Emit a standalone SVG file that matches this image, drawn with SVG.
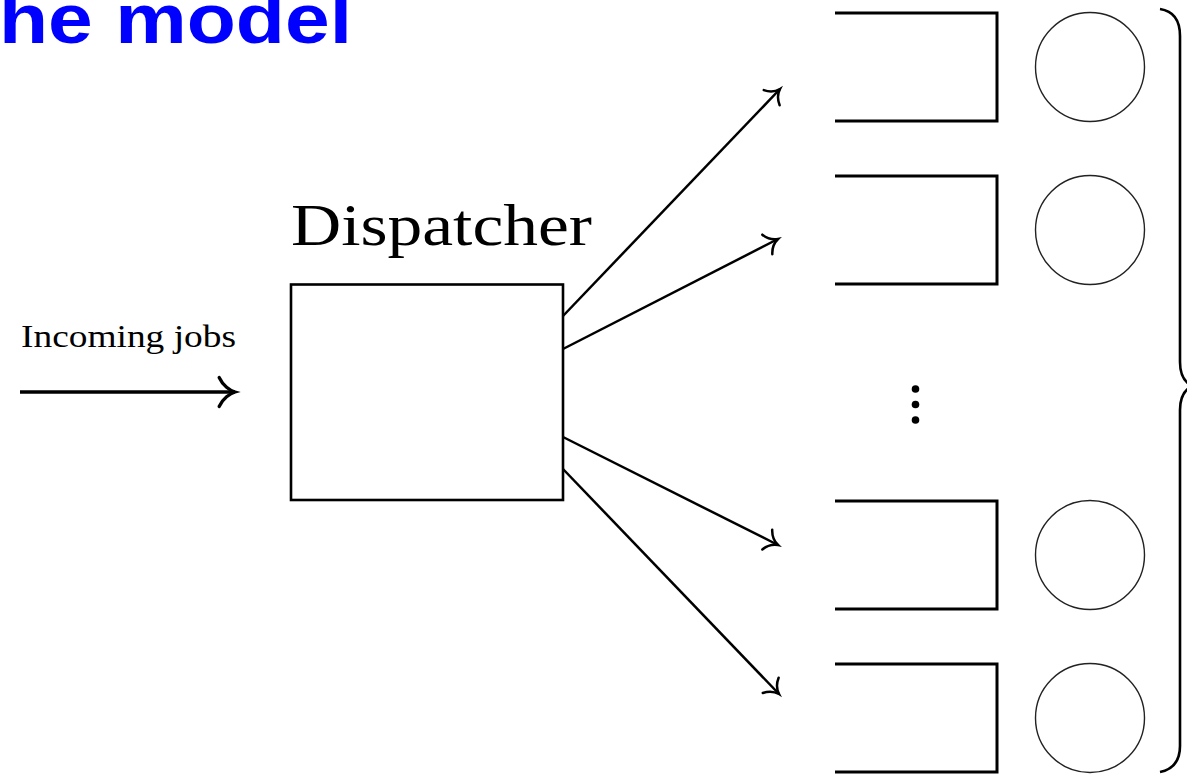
<svg xmlns="http://www.w3.org/2000/svg" width="1187" height="775" viewBox="0 0 1187 775">
  <style>
    .title { font-family: "Liberation Sans", Arial, sans-serif; font-weight: bold; fill: #0000ff; }
    .lbl { font-family: "Liberation Serif", "Times New Roman", serif; fill: #000; }
    .queue { fill: none; stroke: #000; stroke-width: 3; }
    .server { fill: none; stroke: #222; stroke-width: 1.4; }
    .box { fill: none; stroke: #000; stroke-width: 2.6; }
    .edge { fill: none; stroke: #000; stroke-width: 2.5; marker-end: url(#to); }
  </style>
  <defs>
    <!-- curved "to" style arrowhead, sized relative to the line width -->
    <marker id="to" viewBox="-7 -6 8 12" refX="0" refY="0" markerWidth="8" markerHeight="12" markerUnits="strokeWidth" orient="auto" overflow="visible">
      <path d="M-4.8,-4.4 C-3.7,-2 -1.5,-0.45 0,0 C-1.5,0.45 -3.7,2 -4.8,4.4" fill="none" stroke="#000" stroke-width="1" stroke-linecap="round"/>
    </marker>
  </defs>

  <text class="title" x="-1" y="43" font-size="70" textLength="353" lengthAdjust="spacingAndGlyphs">he model</text>

  <g id="incoming">
    <text class="lbl" x="21" y="347" font-size="31" textLength="215" lengthAdjust="spacingAndGlyphs">Incoming jobs</text>
  </g>

  <g id="dispatcher">
    <text class="lbl" x="291" y="245" font-size="60" textLength="301" lengthAdjust="spacingAndGlyphs">Dispatcher</text>
    <rect class="box" x="291" y="284.5" width="272" height="215.5"/>
  </g>

  <g id="queue1">
    <polyline class="queue" points="835,13 997,13 997,121 835,121"/>
    <circle class="server" cx="1090" cy="67" r="54.5"/>
  </g>
  <g id="queue2">
    <polyline class="queue" points="835,176 997,176 997,284 835,284"/>
    <circle class="server" cx="1090" cy="230" r="54.5"/>
  </g>
  <g id="ellipsis">
    <circle cx="915.5" cy="389" r="3.8" fill="#000"/>
    <circle cx="915.5" cy="404.5" r="3.8" fill="#000"/>
    <circle cx="915.5" cy="420" r="3.8" fill="#000"/>
  </g>
  <g id="queue3">
    <polyline class="queue" points="835,501 997,501 997,609 835,609"/>
    <circle class="server" cx="1090" cy="555" r="54.5"/>
  </g>
  <g id="queue4">
    <polyline class="queue" points="835,664 997,664 997,772 835,772"/>
    <circle class="server" cx="1090" cy="718" r="54.5"/>
  </g>

  <g id="brace">
    <path d="M1160,9 Q1180,12 1180,36 L1180,362 Q1180,380 1192,386 Q1180,392 1180,410 L1180,746 Q1180,768 1160,772" fill="none" stroke="#000" stroke-width="2.6"/>
  </g>

  <g id="connectors">
    <line class="edge" x1="20" y1="392" x2="235" y2="392" style="stroke-width:3.3"/>
    <line class="edge" x1="563" y1="316" x2="780" y2="89"/>
    <line class="edge" x1="563" y1="349" x2="778" y2="239"/>
    <line class="edge" x1="563" y1="437" x2="778" y2="545"/>
    <line class="edge" x1="563" y1="469" x2="779" y2="694"/>
  </g>
</svg>
